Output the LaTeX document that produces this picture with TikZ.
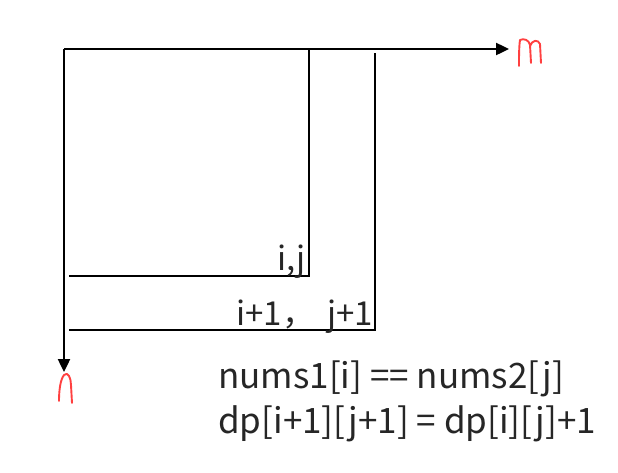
\documentclass[tikz,border=0pt]{standalone}
\usepackage{fontspec}
\setmainfont{Noto Sans CJK SC}
\usetikzlibrary{arrows.meta}
\begin{document}
\begin{tikzpicture}[x=1pt,y=-1pt,
  axis/.style={line width=2.4pt,-{Triangle[length=13pt,width=12pt]}},
  edge/.style={line width=2.4pt},
  hand/.style={draw=red!75!white,line width=1.9pt,line cap=round,line join=round},
  lbl/.style={inner sep=0pt,font=\fontsize{33}{36}\selectfont,text=black!85},
  formula/.style={inner sep=0pt,font=\fontsize{35}{38}\selectfont,text=black!85,anchor=base west}]
\useasboundingbox (0,0) rectangle (618,472);
\coordinate (O) at (64,49);
\coordinate (M) at (509,49);
\coordinate (N) at (64,372);
\coordinate (A) at (309,49);
\coordinate (B) at (309,276);
\coordinate (C) at (69,276);
\coordinate (D) at (375,53);
\coordinate (E) at (375,330);
\coordinate (F) at (69,330);
\draw[axis] (O) -- (M);
\draw[axis] (O) -- (N);
\draw[edge] (A) -- (B) -- (C);
\draw[edge] (D) -- (E) -- (F);
\node[lbl,anchor=base east] (lij) at (306,270) {i,j};
\node[lbl,anchor=base east] (lij1) at (373,325) {i+1，\hspace{12pt}j+1};
\node[formula] (f1) at (218,388) {nums1[i] == nums2[j]};
\node[formula] (f2) at (218,433) {dp[i+1][j+1] = dp[i][j]+1};
% handwritten m
\draw[hand] (519,66) .. controls (519,56) and (519,47) .. (520,40)
  .. controls (524,38) and (529,40) .. (530,45) -- (531,63)
  (530,46) .. controls (532,40) and (538,39) .. (540,44) -- (541,63);
% handwritten n
\draw[hand] (59,401) .. controls (59,392) and (60,380) .. (64,375)
  .. controls (68,371) and (71,378) .. (71,385) -- (72,403);
\end{tikzpicture}
\end{document}
